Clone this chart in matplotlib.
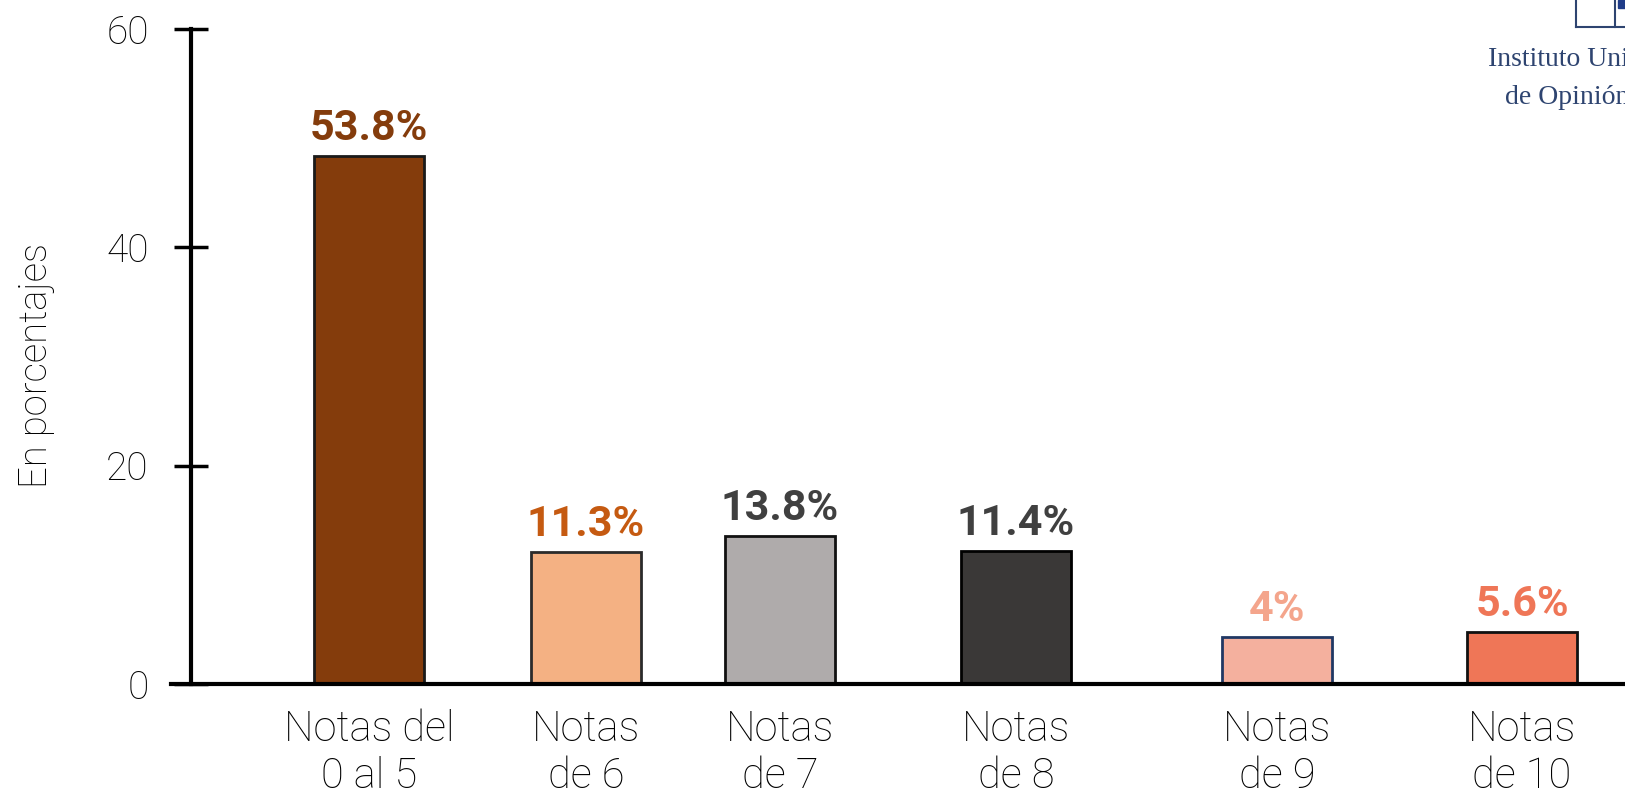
import matplotlib.pyplot as plt
from matplotlib.lines import Line2D
from matplotlib.patches import Rectangle

# -----------------------------
# Data
# -----------------------------
categories = ["Notas del\n0 al 5", "Notas\nde 6", "Notas\nde 7",
              "Notas\nde 8", "Notas\nde 9", "Notas\nde 10"]
bar_heights = [48.4, 12.1, 13.6, 12.2, 4.3, 4.8]
value_labels = ["53.8%", "11.3%", "13.8%", "11.4%", "4%", "5.6%"]

# -----------------------------
# Layout / style
# -----------------------------
positions = [1.78, 3.95, 5.89, 8.25, 10.86, 13.31]
bar_colors = ["#843C0C", "#F4B183", "#AFABAB", "#3A3837", "#F4B09E", "#EF7657"]
edge_colors = ["#1a1a1a", "#2b2b2b", "#111111", "#000000", "#203864", "#111111"]
label_colors = ["#843C0C", "#C55A11", "#404040", "#404040", "#F4A58C", "#EF7657"]

light = dict(family=["Roboto", "DejaVu Sans"], weight="light")
bold = dict(family=["Roboto", "DejaVu Sans"], weight="bold")

fig = plt.figure(figsize=(16.25, 7.93), dpi=100)
ax = fig.add_axes([191 / 1625, 109 / 793, 1 - 191 / 1625, (684 - 29) / 793])

ax.bar(positions, bar_heights, width=1.1, color=bar_colors,
       edgecolor=edge_colors, linewidth=2, zorder=2)

for x, h, txt, c in zip(positions, bar_heights, value_labels, label_colors):
    ax.annotate(txt, (x, h), xytext=(0, 5), textcoords="offset points",
                ha="center", va="bottom", fontsize=31, color=c, **bold)

ax.set_xlim(0, 14.34)
ax.set_ylim(0, 60)

# axes lines
for s in ["top", "right", "bottom"]:
    ax.spines[s].set_visible(False)
ax.spines["left"].set_linewidth(3)
ax.plot([-0.2, 14.34], [0, 0], color="black", lw=3, clip_on=False, zorder=3)

ax.set_yticks([0, 20, 40, 60])
ax.tick_params(axis="y", direction="inout", length=25, width=2.5, pad=18)
for lab in ax.get_yticklabels():
    lab.set_fontsize(28)
    lab.set_fontfamily(light["family"])
    lab.set_fontweight("light")

ax.set_xticks(positions)
ax.set_xticklabels(categories, fontsize=30, linespacing=1.2, **light)
ax.tick_params(axis="x", length=0, pad=18)

fig.text(36 / 1625, 1 - 366 / 793, "En porcentajes", rotation=90,
         ha="center", va="center", fontsize=27.5, **light)

# logo fragment top right
navy = "#2E4470"
fig.text(1488 / 1625, 1 - 60 / 793, "Instituto Universitario", ha="left",
         va="center", fontsize=20, color=navy, family="Liberation Serif")
fig.text(1505 / 1625, 1 - 97 / 793, "de Opinión Pública", ha="left",
         va="center", fontsize=20, color=navy, family="Liberation Serif")
fig.add_artist(Line2D([1576 / 1625, 1576 / 1625], [1, 1 - 27 / 793],
                      color=navy, lw=1.5, transform=fig.transFigure))
fig.add_artist(Line2D([1576 / 1625, 1], [1 - 27 / 793, 1 - 27 / 793],
                      color=navy, lw=1.5, transform=fig.transFigure))
fig.add_artist(Line2D([1615 / 1625, 1615 / 1625], [1, 1 - 27 / 793],
                      color=navy, lw=1.5, transform=fig.transFigure))
fig.add_artist(Rectangle((1618 / 1625, 1 - 8 / 793), 7 / 1625, 8 / 793,
                         color="#1F3C88", transform=fig.transFigure))

fig.savefig("out.png", dpi=100)
